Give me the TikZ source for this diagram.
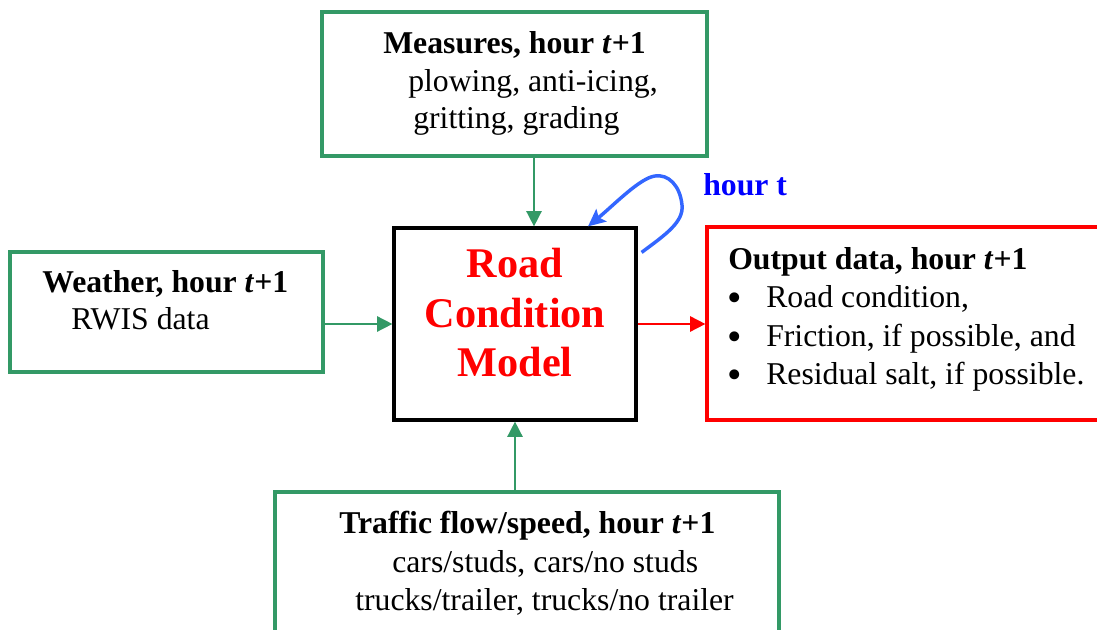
\documentclass[tikz,border=0pt]{standalone}
\usepackage{fontspec}
\setmainfont{Liberation Serif}
\usetikzlibrary{arrows.meta,fit,calc}
\definecolor{sgreen}{RGB}{51,153,102}
\definecolor{loopblue}{RGB}{51,102,255}
\begin{document}
\begin{tikzpicture}[x=0.75pt,y=-0.75pt,
  gbox/.style={draw=sgreen,line width=2.5pt,inner sep=0pt},
  mbox/.style={draw=black,line width=2.4pt,inner sep=0pt},
  rbox/.style={draw=red,line width=2.4pt,inner sep=0pt},
  txt/.style={anchor=base west,inner sep=0pt,font=\fontsize{23.8}{28}\selectfont},
  btxt/.style={anchor=base west,inner sep=0pt,font=\fontsize{23.8}{28}\selectfont\bfseries},
  bul/.style={anchor=base,inner sep=0pt,font=\fontsize{31}{36}\selectfont},
  mtxt/.style={anchor=base,inner sep=0pt,text=red,font=\fontsize{31.7}{38}\selectfont\bfseries},
  garrow/.style={draw=sgreen,line width=1.2pt,-{Triangle[length=11.5pt,width=11.5pt]}},
  rarrow/.style={draw=red,line width=1.3pt,-{Triangle[length=11.5pt,width=11.5pt]}},
  looparrow/.style={draw=loopblue,line width=2.6pt,-{Stealth[length=13pt,width=12pt,inset=2.5pt]}}
]
\useasboundingbox (0,0) rectangle (1097,630);
\clip (0,0) rectangle (1097,630);

% boxes
\node[gbox,fit={(322,12) (707,156)}] (measures) {};
\node[gbox,fit={(10,252) (323,372)}] (weather) {};
\node[mbox,fit={(394,228) (636,420)}] (model) {};
\node[rbox,fit={(707,227) (1115,420)}] (output) {};
\node[gbox,fit={(275,492) (779,650)}] (traffic) {};

% measures text
\node[btxt] (m1) at (383,54) {Measures, hour \textit{t}+1};
\node[txt] (m2) at (408,91.5) {plowing, anti-icing,};
\node[txt] (m3) at (413,129) {gritting, grading};

% weather text
\node[btxt] (w1) at (42,293) {Weather, hour \textit{t}+1};
\node[txt] (w2) at (71,330) {RWIS data};

% model text
\node[mtxt] (r1) at (515,278) {Road};
\node[mtxt] (r2) at (515,328) {Condition};
\node[mtxt] (r3) at (515,377) {Model};

% output text
\node[btxt] (o1) at (728,269.5) {Output data, hour \textit{t}+1};
\node[bul] (b1) at (735,312) {•};
\node[bul] (b2) at (735,350.5) {•};
\node[bul] (b3) at (735,389) {•};
\node[txt] (o2) at (766,308) {Road condition,};
\node[txt] (o3) at (766,346.5) {Friction, if possible, and};
\node[txt] (o4) at (766,385) {Residual salt, if possible.};

% traffic text
\node[btxt] (t1) at (339,534) {Traffic flow/speed, hour \textit{t}+1};
\node[txt] (t2) at (392,573) {cars/studs, cars/no studs};
\node[txt] (t3) at (355,611) {trucks/trailer, trucks/no trailer};

% hour t label
\node[anchor=base west,inner sep=0pt,text=blue,font=\fontsize{23.8}{28}\selectfont\bfseries] (ht) at (703,195.5) {hour t};

% connectors
\coordinate (mx) at (534,0);
\draw[garrow] (measures.south -| mx) -- (model.north -| mx);
\draw[garrow] (weather.east |- model.west) -- (model.west);
\draw[garrow] (traffic.north -| model.south) -- (model.south);
\draw[rarrow] (model.east) -- (output.west |- model.east);

\coordinate (loopstart) at ($(model.north east)+(4,26)$);
\coordinate (loopend) at ($(model.north)+(73,0)$);
\draw[looparrow] (loopstart) .. controls (665,235) and (684,222) .. (682,205)
  .. controls (680,185) and (668,174) .. (655,176)
  .. controls (640,178) and (615,204) .. (loopend);
\end{tikzpicture}
\end{document}
